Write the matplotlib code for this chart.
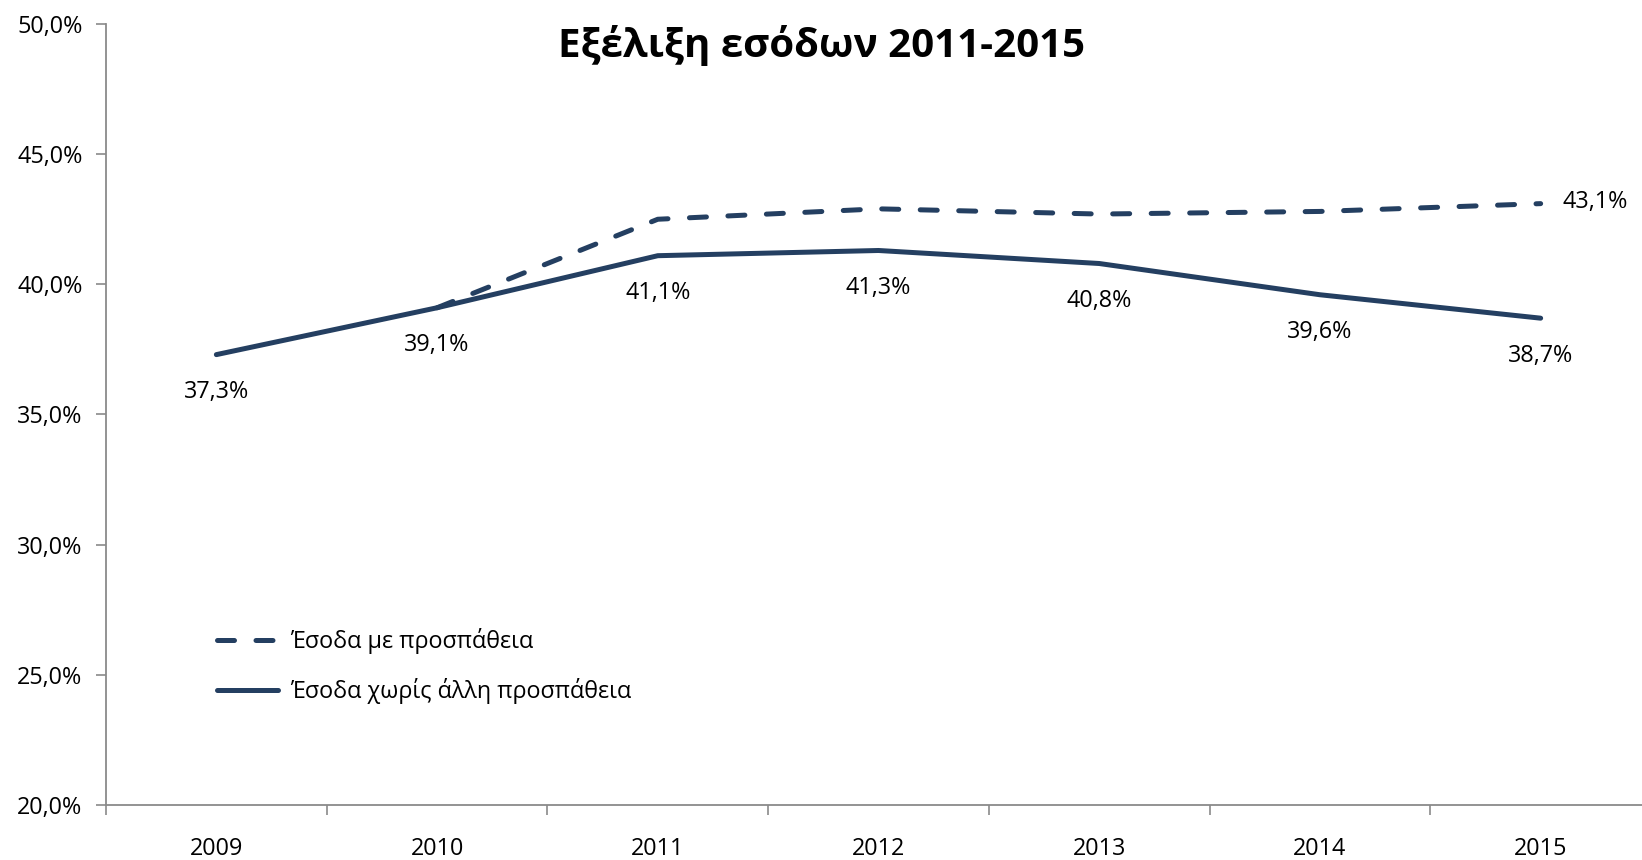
import matplotlib
matplotlib.use("Agg")
import matplotlib.pyplot as plt
from matplotlib.ticker import FuncFormatter, FixedLocator
import numpy as np

# --- data ---
years = ["2009", "2010", "2011", "2012", "2013", "2014", "2015"]
with_effort = [np.nan, 39.1, 42.5, 42.9, 42.7, 42.8, 43.1]
no_effort = [37.3, 39.1, 41.1, 41.3, 40.8, 39.6, 38.7]
labels = ["Έσοδα με προσπάθεια", "Έσοδα χωρίς άλλη προσπάθεια"]
title = "Εξέλιξη εσόδων 2011-2015"

# --- style ---
plt.rcParams['font.family'] = ['Open Sans', 'DejaVu Sans']
LINE_COL = "#243F61"
AXIS_COL = "#8A8A8A"
FS = 16.8

W, H = 1642, 860
fig = plt.figure(figsize=(W / 100, H / 100), dpi=100)
ax = fig.add_axes([106 / W, 55 / H, 1545 / W, 781 / H])

x = np.arange(len(years))
ax.plot(x, with_effort, color=LINE_COL, lw=3.6, dashes=(3.4, 4.3),
        dash_capstyle='round', solid_capstyle='round', label=labels[0])
ax.plot(x, no_effort, color=LINE_COL, lw=3.6, solid_capstyle='round',
        solid_joinstyle='round', label=labels[1])

# data labels
for xi, v in zip(x, no_effort):
    ax.annotate(f"{v:.1f}%".replace(".", ","), (xi, v), xytext=(0, -27),
                textcoords='offset points', ha='center', va='center', fontsize=FS)
ax.annotate(f"{with_effort[-1]:.1f}%".replace(".", ","), (x[-1], with_effort[-1]),
            xytext=(16, 1), textcoords='offset points', ha='left', va='center', fontsize=FS)

# axes
ax.set_xlim(-0.5, len(years) - 0.5)
ax.set_ylim(20, 50)
ax.set_yticks(np.arange(20, 51, 5))
ax.yaxis.set_major_formatter(FuncFormatter(lambda v, p: f"{v:.1f}%".replace(".", ",")))

ax.xaxis.set_major_locator(FixedLocator(np.arange(-0.5, len(years), 1.0)))
ax.set_xticklabels([])
ax.set_xticks(x, minor=True)
ax.set_xticklabels(years, minor=True)
ax.tick_params(axis='x', which='major', direction='out', length=7, width=1.2,
               color=AXIS_COL)
ax.tick_params(axis='x', which='minor', length=0, pad=23, labelsize=FS)
ax.tick_params(axis='y', direction='out', length=7, width=1.2, color=AXIS_COL,
               pad=10, labelsize=FS)

for s in ['top', 'right']:
    ax.spines[s].set_visible(False)
for s in ['left', 'bottom']:
    ax.spines[s].set_color(AXIS_COL)
    ax.spines[s].set_linewidth(1.3)

fig.text(0.5, 1 - 46 / H, title, ha='center', va='center', fontsize=29,
         fontweight='bold')

leg = ax.legend(loc='upper left', bbox_to_anchor=(217 / W, 1 - 628 / H),
                bbox_transform=fig.transFigure, frameon=False, fontsize=FS,
                handlelength=2.6, handletextpad=0.55, labelspacing=1.05,
                borderpad=0, borderaxespad=0)

fig.savefig("out.png", dpi=100)
